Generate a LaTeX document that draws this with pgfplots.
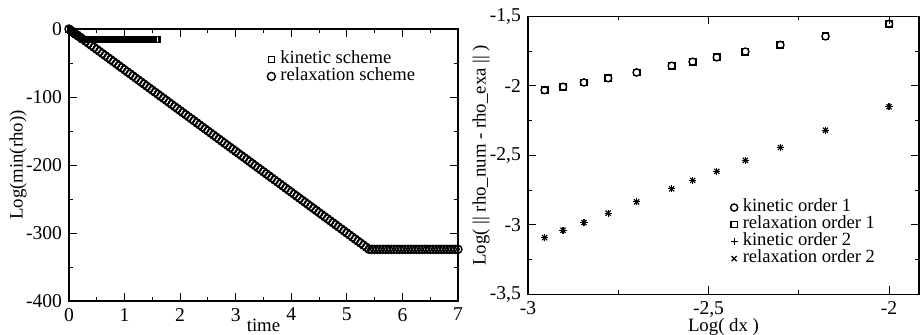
\documentclass[border=0pt]{standalone}
\usepackage{fontspec}
\setmainfont{Liberation Serif}
\usepackage{pgfplots}
\pgfplotsset{compat=1.18}
\begin{document}
\begin{tikzpicture}
\useasboundingbox (0pt,0pt) rectangle (460pt,167pt);
\pgfplotsset{
  myax/.style={
    scale only axis, clip=false,
    axis line style={line width=0.6pt},
    tick style={black, line width=0.5pt},
    major tick length=4pt, minor tick length=2pt,
    tick align=inside,
    minor tick num=1,
    tick label style={font=\fontsize{9.8}{11}\selectfont},
    label style={font=\fontsize{9.4}{11}\selectfont, inner sep=0pt},
    /pgf/number format/assume math mode=true,
    legend cell align=left,
    legend style={draw=none, fill=none, inner sep=0pt, row sep=0pt,
      font=\fontsize{9.3}{10}\selectfont,
      nodes={inner xsep=2.5pt, inner ysep=0.25pt, text height=6pt, text depth=2pt}},
    legend image code/.code={\draw[mark repeat=2,mark phase=2,##1] plot coordinates {(0cm,0cm) (0.14cm,0cm) (0.28cm,0cm)};},
  }
}
\begin{axis}[myax, at={(34.5pt,16.5pt)}, anchor=south west,
  width=194.5pt, height=136pt,
  xmin=0, xmax=7, ymin=-400, ymax=0,
  xtick={0,1,2,3,4,5,6,7}, ytick={-400,-300,-200,-100,0},
  xlabel={time}, ylabel={Log(min(rho))},
  xlabel style={at={(axis description cs:0.5,-0.088)}, anchor=center},
  ylabel style={at={(axis description cs:-0.131,0.5)}, anchor=center},
  legend style={at={(axis description cs:0.509,0.921)}, anchor=north west}]
\addplot[only marks, mark=square, mark size=1.5pt, line width=0.5pt, black] table {
0 0
0.025 -1.5
0.05 -3
0.075 -4.5
0.1 -6
0.125 -7.5
0.15 -9
0.175 -10.5
0.2 -12
0.225 -13.5
0.25 -15
0.275 -15
0.3 -15
0.325 -15
0.35 -15
0.375 -15
0.4 -15
0.425 -15
0.45 -15
0.475 -15
0.5 -15
0.525 -15
0.55 -15
0.575 -15
0.6 -15
0.625 -15
0.65 -15
0.675 -15
0.7 -15
0.725 -15
0.75 -15
0.775 -15
0.8 -15
0.825 -15
0.85 -15
0.875 -15
0.9 -15
0.925 -15
0.95 -15
0.975 -15
1 -15
1.025 -15
1.05 -15
1.075 -15
1.1 -15
1.125 -15
1.15 -15
1.175 -15
1.2 -15
1.225 -15
1.25 -15
1.275 -15
1.3 -15
1.325 -15
1.35 -15
1.375 -15
1.4 -15
1.425 -15
1.45 -15
1.475 -15
1.5 -15
1.525 -15
1.55 -15
1.575 -15
1.6 -15
};
\addlegendentry{kinetic scheme}
\addplot[only marks, mark=o, mark size=2pt, line width=0.7pt, black] table {
0 0
0.05 -3
0.1 -6
0.15 -9
0.2 -12
0.25 -15
0.3 -18
0.35 -21
0.4 -24
0.45 -27
0.5 -30
0.55 -33
0.6 -36
0.65 -39
0.7 -42
0.75 -45
0.8 -48
0.85 -51
0.9 -54
0.95 -57
1 -60
1.05 -63
1.1 -66
1.15 -69
1.2 -72
1.25 -75
1.3 -78
1.35 -81
1.4 -84
1.45 -87
1.5 -90
1.55 -93
1.6 -96
1.65 -99
1.7 -102
1.75 -105
1.8 -108
1.85 -111
1.9 -114
1.95 -117
2 -120
2.05 -123
2.1 -126
2.15 -129
2.2 -132
2.25 -135
2.3 -138
2.35 -141
2.4 -144
2.45 -147
2.5 -150
2.55 -153
2.6 -156
2.65 -159
2.7 -162
2.75 -165
2.8 -168
2.85 -171
2.9 -174
2.95 -177
3 -180
3.05 -183
3.1 -186
3.15 -189
3.2 -192
3.25 -195
3.3 -198
3.35 -201
3.4 -204
3.45 -207
3.5 -210
3.55 -213
3.6 -216
3.65 -219
3.7 -222
3.75 -225
3.8 -228
3.85 -231
3.9 -234
3.95 -237
4 -240
4.05 -243
4.1 -246
4.15 -249
4.2 -252
4.25 -255
4.3 -258
4.35 -261
4.4 -264
4.45 -267
4.5 -270
4.55 -273
4.6 -276
4.65 -279
4.7 -282
4.75 -285
4.8 -288
4.85 -291
4.9 -294
4.95 -297
5 -300
5.05 -303
5.1 -306
5.15 -309
5.2 -312
5.25 -315
5.3 -318
5.35 -321
5.4 -324
5.45 -324
5.5 -324
5.55 -324
5.6 -324
5.65 -324
5.7 -324
5.75 -324
5.8 -324
5.85 -324
5.9 -324
5.95 -324
6 -324
6.05 -324
6.1 -324
6.15 -324
6.2 -324
6.25 -324
6.3 -324
6.35 -324
6.4 -324
6.45 -324
6.5 -324
6.55 -324
6.6 -324
6.65 -324
6.7 -324
6.75 -324
6.8 -324
6.85 -324
6.9 -324
6.95 -324
7 -324
};
\addlegendentry{relaxation scheme}
\end{axis}
\begin{axis}[myax, at={(264pt,19.85pt)}, anchor=south west,
  width=195.5pt, height=139pt,
  xmin=-3, xmax=-1.917, ymin=-3.5, ymax=-1.5,
  xtick={-3,-2.5,-2}, ytick={-3.5,-3,-2.5,-2,-1.5},
  xticklabel style={/pgf/number format/use comma},
  yticklabel style={/pgf/number format/use comma},
  xlabel={Log( dx )}, ylabel={Log( \textbar\textbar{} rho\_num - rho\_exa \textbar\textbar{} )},
  xlabel style={at={(axis description cs:0.5,-0.119)}, anchor=center},
  ylabel style={at={(axis description cs:-0.12,0.5)}, anchor=center},
  legend style={at={(axis description cs:0.517,0.344)}, anchor=north west}]
\addplot[only marks, mark=o, mark size=1.8pt, line width=0.7pt, black] table {
-2.954 -2.031
-2.903 -2.007
-2.845 -1.976
-2.778 -1.945
-2.699 -1.904
-2.602 -1.856
-2.544 -1.827
-2.477 -1.795
-2.398 -1.754
-2.301 -1.706
-2.176 -1.644
-2.000 -1.555
};
\addlegendentry{kinetic order 1}
\addplot[only marks, mark=square, mark size=1.6pt, line width=0.7pt, black] table {
-2.954 -2.031
-2.903 -2.007
-2.845 -1.976
-2.778 -1.945
-2.699 -1.904
-2.602 -1.856
-2.544 -1.827
-2.477 -1.795
-2.398 -1.754
-2.301 -1.706
-2.176 -1.644
-2.000 -1.555
};
\addlegendentry{relaxation order 1}
\addplot[only marks, mark=+, mark size=1.8pt, line width=0.6pt, black] table {
-2.954 -3.092
-2.903 -3.039
-2.845 -2.984
-2.778 -2.916
-2.699 -2.835
-2.602 -2.741
-2.544 -2.681
-2.477 -2.616
-2.398 -2.537
-2.301 -2.444
-2.176 -2.320
-2.000 -2.150
};
\addlegendentry{kinetic order 2}
\addplot[only marks, mark=x, mark size=1.8pt, line width=0.6pt, black] table {
-2.954 -3.092
-2.903 -3.039
-2.845 -2.984
-2.778 -2.916
-2.699 -2.835
-2.602 -2.741
-2.544 -2.681
-2.477 -2.616
-2.398 -2.537
-2.301 -2.444
-2.176 -2.320
-2.000 -2.150
};
\addlegendentry{relaxation order 2}
\end{axis}
\end{tikzpicture}
\end{document}
